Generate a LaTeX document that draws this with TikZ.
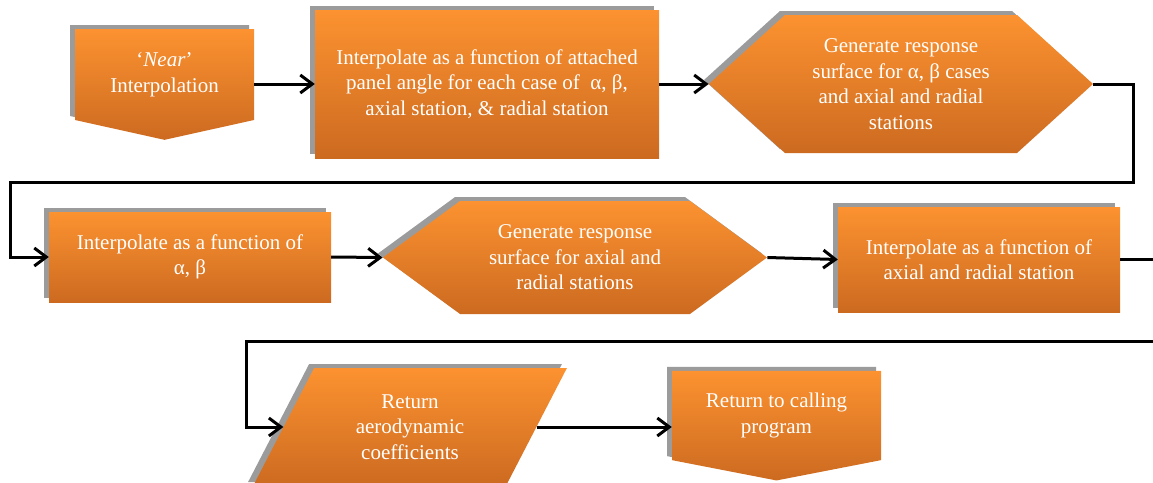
\documentclass[tikz,border=0pt]{standalone}
\usepackage{fontspec}
\setmainfont{Liberation Serif}
\usetikzlibrary{shapes.symbols,shapes.geometric,shadows,arrows.meta}

\definecolor{orangetop}{RGB}{252,146,48}
\definecolor{orangebot}{RGB}{204,106,32}
\definecolor{shadowgray}{RGB}{155,155,155}

\begin{document}
\begin{tikzpicture}[x=1pt,y=-1pt,
    >={Straight Barb[length=12pt,width=18pt]},
    block/.style={top color=orangetop, bottom color=orangebot, text=white,
        align=center, inner sep=0pt, font=\fontsize{21}{25.5}\selectfont,
        general shadow={fill=shadowgray, shadow xshift=-5pt, shadow yshift=4pt}},
    box/.style={block, rectangle},
    hexa/.style={block, signal, signal to=east and west, signal from=nowhere},
    offpage/.style={block, signal, signal to=south, signal from=nowhere},
    slant/.style={block, trapezium, trapezium stretches=true,
        trapezium left angle=62, trapezium right angle=118},
    link/.style={->, line width=3pt}]
    \clip (0,0) rectangle (1153,482);

    % Top row
    \node[offpage, minimum width=179pt, minimum height=103pt, signal pointer angle=155] (near) at (164.5,74.5) {‘\textit{Near}’\\Interpolation};
    \node[box, minimum width=344pt, minimum height=148pt] (interpA) at (487,84) {Interpolate as a function of attached\\panel angle for each case of \ α, β,\\axial station, \& radial station};
    \node[hexa, minimum width=384pt, minimum height=138pt, signal pointer angle=84.5] (respA) at (901,84) {Generate response\\surface for α, β cases\\and axial and radial\\stations};

    % Middle row
    \node[box, minimum width=282pt, minimum height=90pt] (interpB) at (190,257) {Interpolate as a function of\\α, β};
    \node[hexa, minimum width=384pt, minimum height=113pt, signal pointer angle=72.5] (respB) at (575,257.5) {Generate response\\surface for axial and\\radial stations};
    \node[box, minimum width=282pt, minimum height=105pt] (interpC) at (979,259.5) {Interpolate as a function of\\axial and radial station};

    % Bottom row
    \node[slant, minimum width=314pt, minimum height=118pt] (coeffs) at (410,427) {Return\\aerodynamic\\coefficients};
    \node[offpage, minimum width=209pt, minimum height=103pt, signal pointer angle=158] (retprog) at (776.5,415.5) {Return to calling\\program};

    % Connectors
    \draw[link] (near.east |- interpA.west) -- (interpA.west);
    \draw[link] (interpA.east) -- (respA.west);
    \draw[link] (respA.east) -- (1133,84) -- (1133,182) -- (10,182) |- (interpB.west);
    \draw[link] (interpB.east) -- (respB.west);
    \draw[link] (respB.east) -- (interpC.west);
    \draw[link] (interpC.east) -- (1170,259.5) -- (1170,341) -- (246,341) |- (coeffs.west);
    \draw[link] (coeffs.east) -- (coeffs.east -| retprog.west);
\end{tikzpicture}
\end{document}
